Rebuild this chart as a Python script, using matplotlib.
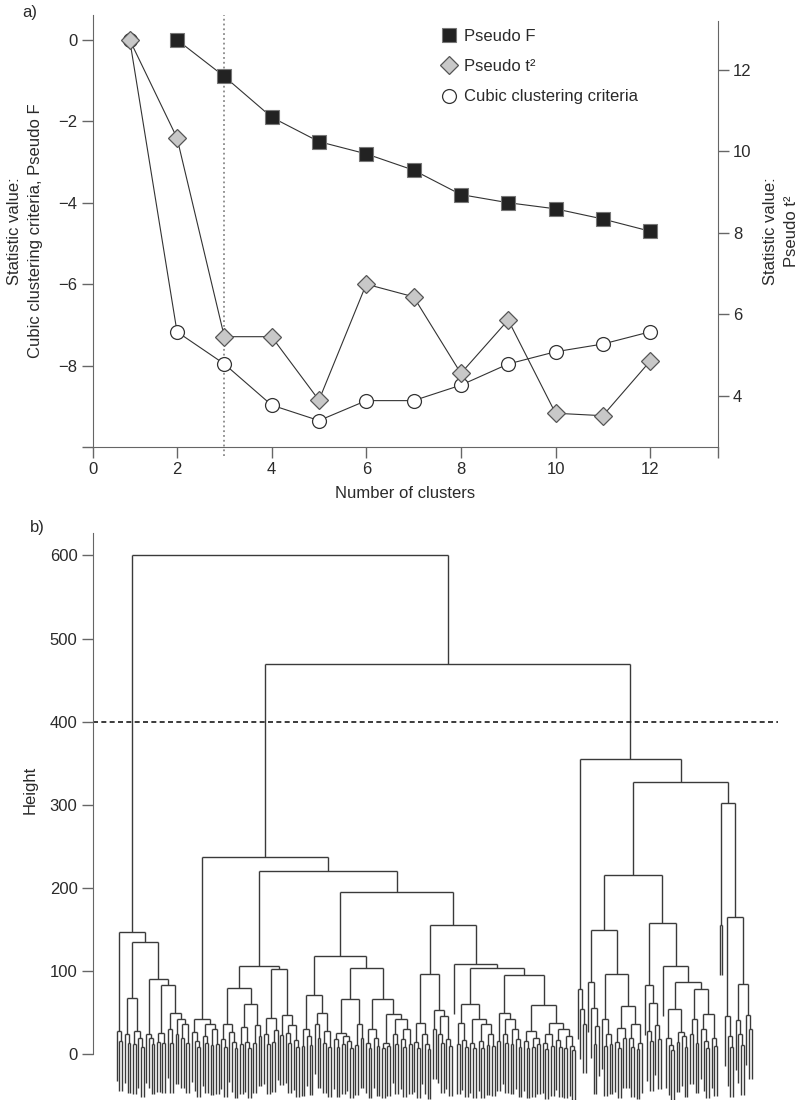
"""
Cluster number selection (a) and hierarchical clustering dendrogram (b).
"""
import matplotlib
matplotlib.use('Agg')
import matplotlib.pyplot as plt
from matplotlib.collections import LineCollection

plt.rcParams['font.family'] = ['Liberation Sans', 'DejaVu Sans']
plt.rcParams['font.size'] = 12

# ---- panel a: statistics by number of clusters ----
ccc_k = [1, 2, 3, 4, 5, 6, 7, 8, 9, 10, 11, 12]
ccc = [0.0, -7.17, -7.96, -8.97, -9.35, -8.86, -8.86, -8.48, -7.96, -7.66, -7.47, -7.17]
pseudo_f_k = [2, 3, 4, 5, 6, 7, 8, 9, 10, 11, 12]
pseudo_f = [0.0, -0.9, -1.9, -2.5, -2.8, -3.2, -3.8, -4.0, -4.15, -4.4, -4.7]
pseudo_t2_k = [1, 2, 3, 4, 5, 6, 7, 8, 9, 10, 11, 12]
pseudo_t2 = [12.74, 10.33, 5.45, 5.45, 3.89, 6.74, 6.43, 4.55, 5.86, 3.57, 3.51, 4.85]
chosen_k = 3

# ---- panel b: dendrogram, node = (height, left, right), o = single observation ----
o = 0
cut_height = 400
hang = 60

a1 = (28, o, (16, o, o))
a21 = (68, (25, o, (13, o, o)), (28, (12, o, o), (20, o, (9, o, o))))
a221 = (25, o, (19, o, (12, o, o)))
a2221 = (26, (15, o, o), (14, o, o))
a2222 = (50, (31, o, (14, o, o)), (43, (24, o, o), (36, (20, o, o), (14, o, o))))
cluster_a = (147, a1, (135, a21, (91, a221, (83, a2221, a2222))))

b11 = (43, (27, o, (16, o, (9, o, o))), (37, (22, o, (13, o, o)), (30, (11, o, o), (12, o, o))))
b1211 = (80, (36, (18, o, (9, o, o)), (27, o, (15, o, (7, o, o)))),
         (60, (33, (12, o, o), (15, o, (8, o, o))), (35, (14, o, o), (22, o, o))))
b1212 = (103, (44, (24, o, (12, o, o)), (29, (15, o, o), o)),
          (47, (23, o, o), (35, (26, o, (14, o, o)), (17, o, (9, o, o)))))
b12211 = (71, (30, (10, o, o), (22, o, (11, o, o))),
          (50, (36, o, (20, o, o)), (28, (14, o, o), (9, o, o))))
b12212 = (104, (67, (26, (18, o, (9, o, o)), (22, (12, o, o), (16, o, (8, o, o)))),
                (36, (11, o, o), (20, o, o))),
          (67, (31, (14, o, (7, o, o)), (20, o, (10, o, o))),
           (48, (14, (8, o, o), (10, o, o)),
            (43, (25, o, (12, o, o)), (30, (18, o, (9, o, o)), (12, o, o))))))
b12221 = (96, (38, (15, o, (8, o, o)), (24, o, (12, o, (6, o, o)))),
          (53, (30, o, o), (46, (25, o, (13, o, o)), (18, o, (10, o, o)))))
b122221 = (61, (38, (12, o, o), (17, o, (9, o, o))),
           (42, (14, o, (7, o, o)), (36, (16, o, (8, o, o)), (24, (11, o, o), (10, o, o)))))
b122222 = (95, (50, (16, o, o), (43, (24, o, (14, o, o)), (30, (12, o, o), (18, o, (9, o, o))))),
           (59, (28, (16, o, (8, o, o)), (20, (9, o, o), (12, o, o))),
            (38, (25, (14, o, (6, o, o)), (10, o, o)),
             (30, (17, o, (9, o, o)), (22, (8, o, o), (10, o, (5, o, o)))))))
b21 = (78, o, (54, o, (37, o, o)))
b2211 = (149, (87, o, (56, o, (34, (12, o, o), o))),
         (97, (42, o, (24, (10, o, o), (12, o, o))),
          (58, (32, (15, o, (7, o, o)), (20, o, o)), (37, (20, o, (9, o, o)), (14, (6, o, o), o)))))
b2212 = (158, (83, o, (62, (28, o, (16, o, o)), (35, o, (18, o, o)))),
         (106, o, (87, (54, (20, o, (11, o, (5, o, o))), (27, (15, o, o), (22, o, (9, o, o)))),
                   (78, (42, (24, o, o), (13, o, o)),
                    (49, (30, o, (16, o, (7, o, o))), (20, o, (10, o, o)))))))
b222 = (302, (155, o, o), (165, (46, o, (22, o, (9, o, o))),
                           (84, (41, o, (25, o, (11, o, o))), (47, o, (30, o, o)))))

tree = (600, cluster_a,
        (469, (237, b11, (220, (106, b1211, b1212),
                          (195, (118, b12211, b12212),
                           (156, b12221, (108, o, (104, b122221, b122222)))))),
         (355, b21, (327, (216, b2211, b2212), b222))))


def walk(node, segs, counter):
    """R style dendrogram layout: returns (x, height) of node, leaves numbered from 1"""
    if not isinstance(node, tuple):
        counter[0] += 1
        return counter[0], None
    h, left, right = node
    xl, hl = walk(left, segs, counter)
    xr, hr = walk(right, segs, counter)
    for xc, hc in ((xl, hl), (xr, hr)):
        bottom = h - hang if hc is None else hc
        segs.append([(xc, h), (xc, bottom)])
    segs.append([(xl, h), (xr, h)])
    return (xl + xr) / 2, h


fig = plt.figure(figsize=(8, 11.03), dpi=100)
grey = '#666666'
txt = '#2a2a2a'

# ---------------- panel a ----------------
ax = fig.add_axes([0.116, 0.5947, 0.78125, 0.3917])
ax2 = ax.twinx()

ax.plot(ccc_k, ccc, color='#333333', lw=0.8, marker='o', ms=10,
        mfc='white', mec='#333333', mew=0.9, label='Cubic clustering criteria', zorder=3)
ax.plot(pseudo_f_k, pseudo_f, color='#333333', lw=0.8, marker='s', ms=9.6,
        mfc='#222222', mec='#777777', mew=0.8, label='Pseudo F', zorder=4)
ax2.plot(pseudo_t2_k, pseudo_t2, color='#333333', lw=0.8, marker='D', ms=9.2,
         mfc='#c8c8c8', mec='#555555', mew=0.9, label='Pseudo t\u00b2', zorder=3)
ax.axvline(chosen_k, ymin=-0.02, ymax=1, color='#8a8a8a', ls=':', lw=1.3, clip_on=False)

ax.set_xlim(0.22, 13.43)
ax.set_ylim(-10, 0.61)
ax2.set_ylim(2.74, 13.35)

ax.set_xticks([0.22, 2, 4, 6, 8, 10, 12, 13.43], labels=['0', '2', '4', '6', '8', '10', '12', ''])
ax.set_yticks([-10, -8, -6, -4, -2, 0], labels=['', '\u22128', '\u22126', '\u22124', '\u22122', '0'])
ax2.set_yticks([4, 6, 8, 10, 12])

for a in (ax, ax2):
    a.spines['top'].set_visible(False)
    a.tick_params(length=8, width=1, color=grey, labelcolor=txt, labelsize=12, pad=3)
ax.spines['right'].set_visible(False)
ax2.spines['left'].set_visible(False)
ax2.spines['bottom'].set_visible(False)
ax.spines['left'].set_color(grey)
ax.spines['bottom'].set_color(grey)
ax2.spines['right'].set_color(grey)
ax2.spines['right'].set_bounds(2.74, 13.2)

ax.set_xlabel('Number of clusters', fontsize=12, color=txt, labelpad=6)
ax.set_ylabel('Statistic value:\nCubic clustering criteria, Pseudo F', fontsize=12,
              color=txt, linespacing=1.45)
ax.yaxis.set_label_coords(-0.08, 0.5)
ax2.set_ylabel('Statistic value:\nPseudo t\u00b2', fontsize=12, color=txt, linespacing=1.5)
ax2.yaxis.set_label_coords(1.073, 0.5)

h1, l1 = ax.get_legend_handles_labels()
h2, l2 = ax2.get_legend_handles_labels()
handles = [h1[1], h2[0], h1[0]]
labels = [l1[1], l2[0], l1[0]]
leg = ax2.legend(handles, labels, loc='upper left', bbox_to_anchor=(0.53, 1.003),
                 frameon=False, fontsize=12, handlelength=1.2, handletextpad=0.3,
                 labelspacing=0.92, numpoints=1)
for t in leg.get_texts():
    t.set_color(txt)
for lh in leg.legend_handles:
    lh.set_linestyle('None')

# ---------------- panel b ----------------
bx = fig.add_axes([0.116, 0.0027, 0.85625, 0.5141])
segs = []
counter = [0]
walk(tree, segs, counter)
n_leaves = counter[0]
bx.add_collection(LineCollection(segs, colors='#3a3a3a', linewidths=1.0))

per_leaf = 635 / (n_leaves - 1)
bx.set_xlim(1 - 24 / per_leaf, n_leaves + 26 / per_leaf)
bx.set_ylim(-55, 627)
bx.axhline(cut_height, color='#1a1a1a', ls=(0, (3, 2)), lw=1.2)

bx.set_yticks([0, 100, 200, 300, 400, 500, 600])
bx.set_xticks([])
for side in ('top', 'right', 'bottom'):
    bx.spines[side].set_visible(False)
bx.spines['left'].set_color(grey)
bx.spines['left'].set_bounds(0, 627)
bx.tick_params(length=8, width=1, color=grey, labelcolor=txt, labelsize=12, pad=3)
bx.set_ylabel('Height', fontsize=12, color=txt)
bx.yaxis.set_label_coords(-0.08, 0.547)

fig.text(0.028, 0.989, 'a)', fontsize=12, color=txt, va='center')
fig.text(0.038, 0.522, 'b)', fontsize=12, color=txt, va='center')

fig.savefig('out.png', dpi=100)
